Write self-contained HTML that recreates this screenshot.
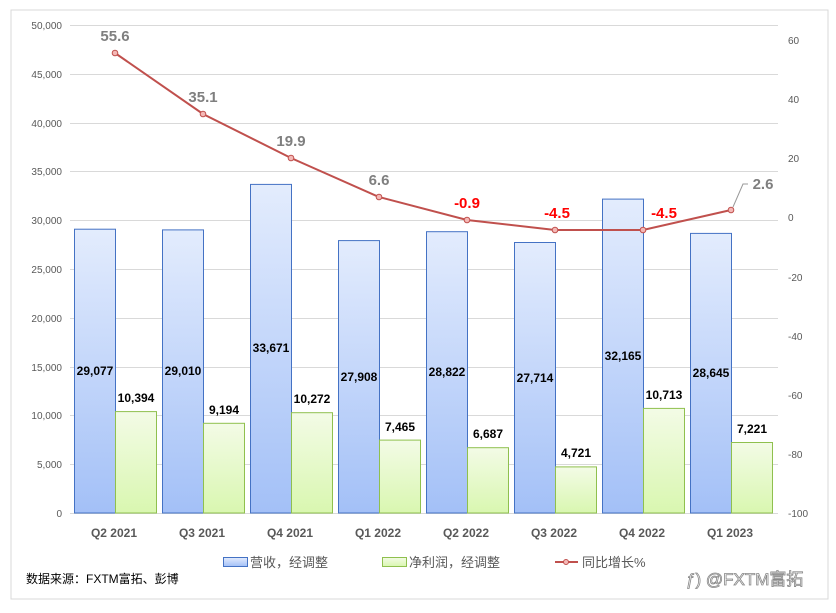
<!DOCTYPE html>
<html><head><meta charset="utf-8"><style>
body{margin:0;background:#fff;}
svg{display:block;font-family:"Liberation Sans","Noto Sans CJK SC",sans-serif;}
</style></head><body>
<svg width="836" height="613" xmlns="http://www.w3.org/2000/svg">
<defs>
<linearGradient id="gb" x1="0" y1="0" x2="0" y2="1"><stop offset="0" stop-color="#e3ecfd"/><stop offset="1" stop-color="#a3c0f7"/></linearGradient>
<linearGradient id="gg" x1="0" y1="0" x2="0" y2="1"><stop offset="0" stop-color="#f3fbe6"/><stop offset="1" stop-color="#d9f7b0"/></linearGradient>
</defs>
<rect x="11" y="10" width="817" height="589" fill="#fff" stroke="#d9d9d9"/>
<g stroke="#d9d9d9" stroke-width="1">
<line x1="70" x2="778" y1="25.5" y2="25.5"/><line x1="70" x2="778" y1="74.5" y2="74.5"/><line x1="70" x2="778" y1="123.5" y2="123.5"/><line x1="70" x2="778" y1="171.5" y2="171.5"/><line x1="70" x2="778" y1="220.5" y2="220.5"/><line x1="70" x2="778" y1="269.5" y2="269.5"/><line x1="70" x2="778" y1="318.5" y2="318.5"/><line x1="70" x2="778" y1="367.5" y2="367.5"/><line x1="70" x2="778" y1="415.5" y2="415.5"/><line x1="70" x2="778" y1="464.5" y2="464.5"/><line x1="70" x2="778" y1="513.5" y2="513.5"/>
</g>
<g font-size="10" fill="#595959" text-anchor="end">
<text x="62" y="29">50,000</text><text x="62" y="78">45,000</text><text x="62" y="127">40,000</text><text x="62" y="175">35,000</text><text x="62" y="224">30,000</text><text x="62" y="273">25,000</text><text x="62" y="322">20,000</text><text x="62" y="371">15,000</text><text x="62" y="419">10,000</text><text x="62" y="468">5,000</text><text x="62" y="517">0</text>
</g>
<g font-size="10" fill="#595959">
<text x="788" y="44">60</text><text x="788" y="103">40</text><text x="788" y="162">20</text><text x="788" y="221">0</text><text x="788" y="281">-20</text><text x="788" y="340">-40</text><text x="788" y="399">-60</text><text x="788" y="458">-80</text><text x="788" y="517">-100</text>
</g>
<g stroke="#4472c4" stroke-width="1" fill="url(#gb)">
<rect x="74.5" y="229.2" width="41" height="283.8"/>
<rect x="162.5" y="229.9" width="41" height="283.1"/>
<rect x="250.5" y="184.4" width="41" height="328.6"/>
<rect x="338.5" y="240.6" width="41" height="272.4"/>
<rect x="426.5" y="231.7" width="41" height="281.3"/>
<rect x="514.5" y="242.5" width="41" height="270.5"/>
<rect x="602.5" y="199.1" width="41" height="313.9"/>
<rect x="690.5" y="233.4" width="41" height="279.6"/>
</g>
<g stroke="#8fc04e" stroke-width="1" fill="url(#gg)">
<rect x="115.5" y="411.6" width="41" height="101.4"/>
<rect x="203.5" y="423.3" width="41" height="89.7"/>
<rect x="291.5" y="412.7" width="41" height="100.3"/>
<rect x="379.5" y="440.1" width="41" height="72.9"/>
<rect x="467.5" y="447.7" width="41" height="65.3"/>
<rect x="555.5" y="466.9" width="41" height="46.1"/>
<rect x="643.5" y="408.4" width="41" height="104.6"/>
<rect x="731.5" y="442.5" width="41" height="70.5"/>
</g>
<g font-size="12" font-weight="bold" fill="#000" text-anchor="middle">
<text x="95" y="375">29,077</text><text x="183" y="375">29,010</text><text x="271" y="352">33,671</text><text x="359" y="381">27,908</text><text x="447" y="376">28,822</text><text x="535" y="382">27,714</text><text x="623" y="360">32,165</text><text x="711" y="377">28,645</text>
<text x="136" y="402">10,394</text><text x="224" y="414">9,194</text><text x="312" y="403">10,272</text><text x="400" y="431">7,465</text><text x="488" y="438">6,687</text><text x="576" y="457">4,721</text><text x="664" y="399">10,713</text><text x="752" y="433">7,221</text>
</g>
<polyline fill="none" stroke="#c0504d" stroke-width="2" points="115,53 203,114 291,158 379,197 467,220 555,230 643,230 731,210"/>
<g fill="#f4b8b6" stroke="#c0504d" stroke-width="1">
<circle cx="115" cy="53" r="2.8"/><circle cx="203" cy="114" r="2.8"/><circle cx="291" cy="158" r="2.8"/><circle cx="379" cy="197" r="2.8"/><circle cx="467" cy="220" r="2.8"/><circle cx="555" cy="230" r="2.8"/><circle cx="643" cy="230" r="2.8"/><circle cx="731" cy="210" r="2.8"/>
</g>
<polyline fill="none" stroke="#999" stroke-width="1" points="733,207 743,184 748,184"/>
<g font-size="15" font-weight="bold" fill="#7f7f7f" text-anchor="middle">
<text x="115" y="41">55.6</text><text x="203" y="102">35.1</text><text x="291" y="146">19.9</text><text x="379" y="185">6.6</text><text x="763" y="189">2.6</text>
</g>
<g font-size="15" font-weight="bold" fill="#ff0000" text-anchor="middle">
<text x="467" y="208">-0.9</text><text x="557" y="218">-4.5</text><text x="664" y="218">-4.5</text>
</g>
<g font-size="12" font-weight="bold" fill="#595959" text-anchor="middle">
<text x="114" y="537">Q2 2021</text><text x="202" y="537">Q3 2021</text><text x="290" y="537">Q4 2021</text><text x="378" y="537">Q1 2022</text><text x="466" y="537">Q2 2022</text><text x="554" y="537">Q3 2022</text><text x="642" y="537">Q4 2022</text><text x="730" y="537">Q1 2023</text>
</g>
<rect x="223.5" y="557.5" width="24" height="9" fill="url(#gb)" stroke="#4472c4"/>
<text x="250" y="567" font-size="13" fill="#595959">营收，经调整</text>
<rect x="382.5" y="557.5" width="24" height="9" fill="url(#gg)" stroke="#8fc04e"/>
<text x="409" y="567" font-size="13" fill="#595959">净利润，经调整</text>
<line x1="555" x2="578" y1="562" y2="562" stroke="#c0504d" stroke-width="2"/>
<circle cx="566" cy="562" r="2.5" fill="#f4b8b6" stroke="#c0504d"/>
<text x="582" y="567" font-size="13" fill="#595959">同比增长%</text>
<text x="26" y="583" font-size="12" fill="#000">数据来源：FXTM富拓、彭博</text>
<text x="686" y="585" font-size="17" fill="#fff" stroke="#888" stroke-width="0.8">ƒ) @FXTM富拓</text>
</svg>
</body></html>
